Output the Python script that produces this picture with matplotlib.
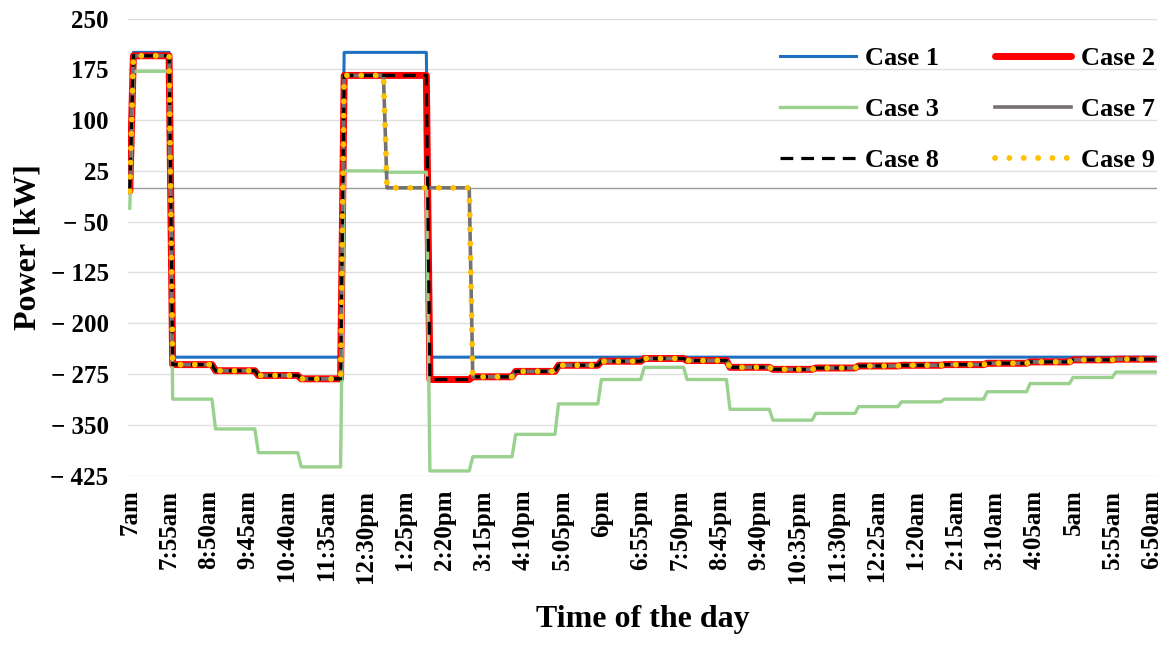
import numpy as np
import matplotlib
matplotlib.use("Agg")
import matplotlib.pyplot as plt

plt.rcParams['font.family'] = ['Liberation Serif', 'DejaVu Serif']
plt.rcParams['font.weight'] = 'bold'
plt.rcParams['axes.labelweight'] = 'bold'

# 5-minute steps from 7am to 6:55am, values change every hour
hours = ["7am", "8am", "9am", "10am", "11am", "12pm", "1pm", "2pm", "3pm", "4pm",
         "5pm", "6pm", "7pm", "8pm", "9pm", "10pm", "11pm", "12am", "1am", "2am",
         "3am", "4am", "5am", "6am"]
steps_per_hour = [11] + [12] * 23  # first point (7am) is the start value

start = {"Case 1": 0, "Case 2": -5, "Case 3": -30, "Case 7": -5, "Case 8": -5, "Case 9": -5}

case1 = [200, -250, -250, -250, -250, 200, 200, -250, -250, -250, -250, -250,
         -250, -250, -250, -250, -250, -250, -250, -250, -250, -250, -250, -250]
case2 = [195, -261, -270, -277, -282, 166, 166, -283, -279, -271, -262, -256,
         -252, -255, -265, -268, -266, -263, -262, -261, -259, -257, -254, -253]
case3 = [172, -312, -356, -391, -412, 25, 23, -418, -397, -364, -319, -283,
         -265, -283, -327, -343, -333, -323, -316, -312, -301, -289, -280, -272]
case7 = [195, -261, -270, -277, -282, 166, 0, 0, -279, -271, -262, -256,
         -252, -255, -265, -268, -266, -263, -262, -261, -259, -257, -254, -253]
case8 = case2
case9 = case7

tick_labels = ["7am", "7:55am", "8:50am", "9:45am", "10:40am", "11:35am", "12:30pm",
               "1:25pm", "2:20pm", "3:15pm", "4:10pm", "5:05pm", "6pm", "6:55pm",
               "7:50pm", "8:45pm", "9:40pm", "10:35pm", "11:30pm", "12:25am",
               "1:20am", "2:15am", "3:10am", "4:05am", "5am", "5:55am", "6:50am"]
yticks = [250, 175, 100, 25, -50, -125, -200, -275, -350, -425]


def expand(name, hourly):
    return np.concatenate([[start[name]], np.repeat(hourly, steps_per_hour)])


x = np.arange(288)

fig = plt.figure(figsize=(11.69, 6.45), dpi=100)
ax = fig.add_axes([0.1095, 0.2625, 0.8802, 0.7088])

ax.axhline(0, color='#9a9a9a', lw=1.0, zorder=1)
l1, = ax.plot(x, expand("Case 1", case1), color='#1f70c1', lw=2.2, label='Case 1', zorder=2)
l2, = ax.plot(x, expand("Case 2", case2), color='#ff0000', lw=5, label='Case 2', zorder=3,
              solid_capstyle='round')
l3, = ax.plot(x, expand("Case 3", case3), color='#9ad18f', lw=2.4, label='Case 3', zorder=4)
l7, = ax.plot(x, expand("Case 7", case7), color='#767171', lw=2.6, label='Case 7', zorder=5)
l8, = ax.plot(x, expand("Case 8", case8), color='black', lw=2.3, dashes=(4, 2.5),
              label='Case 8', zorder=6)
l9, = ax.plot(x, expand("Case 9", case9), color='#ffc000', lw=4.2, dashes=(0.01, 2.45),
              dash_capstyle='round', label='Case 9', zorder=7)

ax.set_xlim(-0.5, 287.5)
ax.set_ylim(-425, 250)
ax.set_yticks(yticks)
ax.set_yticklabels([str(v) if v >= 0 else "\u2212 " + str(-v) for v in yticks], fontsize=18)
ax.set_xticks(np.arange(0, 288, 11))
ax.set_xticklabels(tick_labels, rotation=90, fontsize=18)
ax.tick_params(axis='y', length=0, pad=14)
ax.tick_params(axis='x', length=0, pad=10)
ax.grid(axis='y', color='#dedede', lw=1)
ax.set_axisbelow(True)
for s in ax.spines.values():
    s.set_visible(False)

ax.set_ylabel("Power [kW]", fontsize=23, labelpad=6)
ax.set_xlabel("Time of the day", fontsize=23, labelpad=16)

# legend filled row by row: Case 1, Case 2 / Case 3, Case 7 / Case 8, Case 9
ax.legend([l1, l3, l8, l2, l7, l9], ['Case 1', 'Case 3', 'Case 8', 'Case 2', 'Case 7', 'Case 9'],
          ncol=2, loc='upper right', bbox_to_anchor=(1.008, 0.965),
          bbox_transform=fig.transFigure, frameon=False, fontsize=19,
          handlelength=2.9, handletextpad=0.35, columnspacing=2.1, labelspacing=1.05)

fig.savefig("out.png", dpi=100)
